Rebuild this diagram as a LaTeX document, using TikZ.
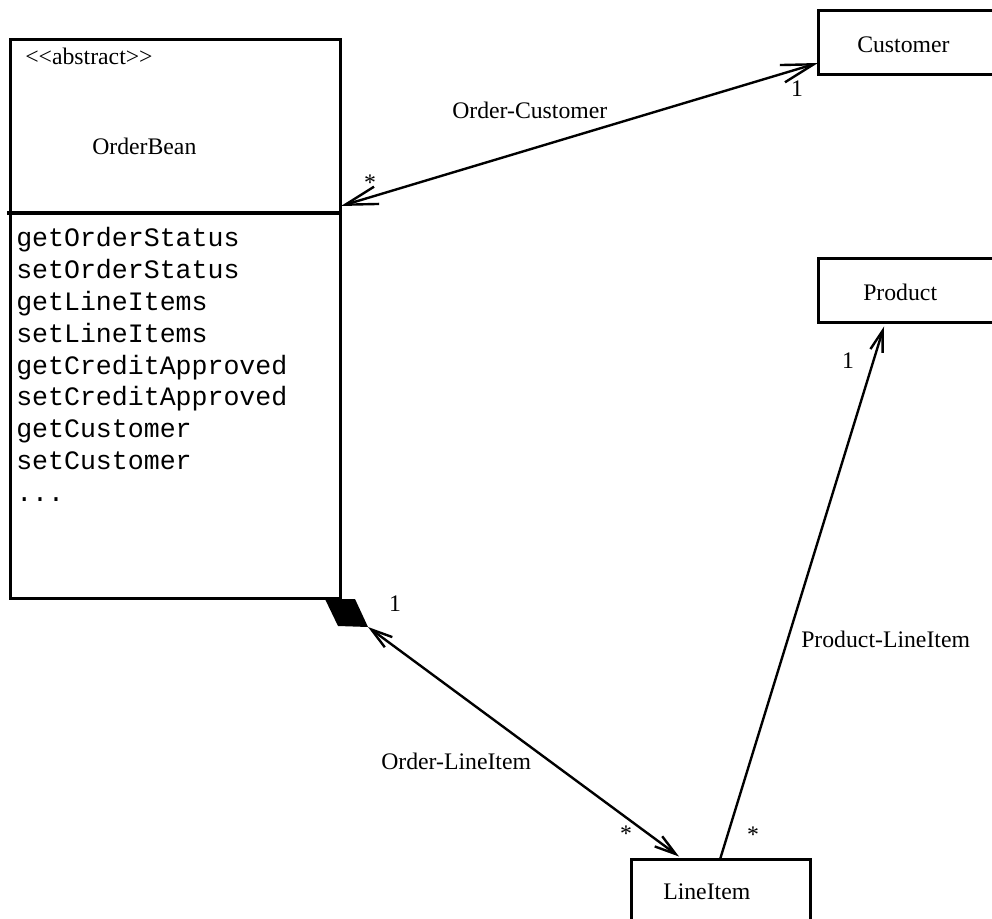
\documentclass[tikz,border=0pt]{standalone}
\usepackage{fontspec}
\setmainfont{Liberation Serif}
\setmonofont{Liberation Mono}
\usetikzlibrary{arrows.meta,calc,fit}
\begin{document}
\begin{tikzpicture}[x=0.75pt,y=-0.75pt,
  box/.style={draw, line width=2.25pt, fill=white, inner sep=0pt, outer sep=0pt},
  lbl/.style={font=\fontsize{17.8}{21}\selectfont, inner sep=0pt, anchor=base west},
  mult/.style={font=\fontsize{17.8}{21}\selectfont, inner sep=0pt, anchor=base},
  meth/.style={font=\ttfamily\fontsize{19.93}{24}\selectfont, inner sep=0pt, anchor=base west},
  conn/.style={line width=1.8pt},
  bigbarb/.tip={Straight Barb[length=24.5pt,width=13.5pt,line width=1.8pt]},
  smallbarb/.tip={Straight Barb[length=16pt,width=9.5pt,line width=1.8pt]}
]
\useasboundingbox (0,0) rectangle (992,919);
\clip (0,0) rectangle (992,919);
\fill[white] (0,0) rectangle (992,919);

% classes
\node[box, fit={(10,40) (340,213)}] (obt) {};
\node[box, fit={(10,213) (340,598.5)}] (obb) {};
\draw[line width=3.4pt] ($(obt.south west)+(-3,0)$) -- (obt.south east);
\node[box, fit={(818,11) (1010,75)}] (cust) {};
\node[box, fit={(818,259) (1010,322.5)}] (prod) {};
\node[box, fit={(631,859.5) (810,940)}] (li) {};

% class texts
\node[lbl] (abs) at (25,65) {<\kern0pt<abstract>\kern0pt>};
\node[lbl] (obname) at (92,155) {OrderBean};
\node[lbl] (custname) at (857,53) {Customer};
\node[lbl] (prodname) at (863,301) {Product};
\node[lbl] (liname) at (663,899) {LineItem};

\node[meth] (m0) at (16,246.5) {getOrderStatus};
\node[meth] (m1) at (16,278.4) {setOrderStatus};
\node[meth] (m2) at (16,310.3) {getLineItems};
\node[meth] (m3) at (16,342.2) {setLineItems};
\node[meth] (m4) at (16,374.1) {getCreditApproved};
\node[meth] (m5) at (16,406.0) {setCreditApproved};
\node[meth] (m6) at (16,437.9) {getCustomer};
\node[meth] (m7) at (16,469.8) {setCustomer};
\node[meth] (m8) at (16,501.7) {...};

% composition diamond
\fill (325,599) -- (355,599) -- (368,627) -- (338,626) -- cycle;
\coordinate (dtip) at (368,627);

% connectors
\draw[conn, bigbarb-bigbarb] ($(obt.south east)+(1,-7)$) -- ($(cust.south west)+(0,-12)$);
\draw[conn, smallbarb-smallbarb] (dtip) -- ($(li.north west)+(48,-3)$);
\draw[conn, -smallbarb] ($(li.north west)+(89,0)$) -- ($(prod.south west)+(66,4)$);

% connector labels
\node[lbl] (ocl) at (452,119) {Order-Customer};
\node[lbl] (oll) at (381,769) {Order-LineItem};
\node[lbl] (pll) at (801,647) {Product-LineItem};

% multiplicities
\node[mult] (s1) at (370,191) {*};
\node[mult] (o1) at (797,97) {1};
\node[mult] (o2) at (395,611) {1};
\node[mult] (s2) at (626,841) {*};
\node[mult] (s3) at (753,842) {*};
\node[mult] (o3) at (848,369) {1};
\end{tikzpicture}
\end{document}
